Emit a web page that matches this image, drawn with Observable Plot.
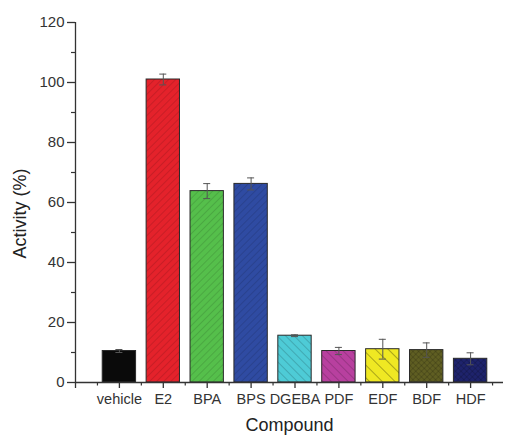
<!DOCTYPE html>
<html>
<head>
<meta charset="utf-8">
<script src="https://cdn.jsdelivr.net/npm/d3@7"></script>
<script src="https://cdn.jsdelivr.net/npm/@observablehq/plot@0.6"></script>
<style>
  html, body { margin: 0; padding: 0; background: #fff; }
  #chart svg { display: block; }
</style>
</head>
<body>
<svg width="0" height="0" style="position:absolute">
  <defs>
    <pattern id="h-fwd" patternUnits="userSpaceOnUse" width="5" height="5" patternTransform="rotate(45)">
      <line x1="0" y1="0" x2="0" y2="5" stroke="rgba(0,0,0,0.22)" stroke-width="1.1"/>
    </pattern>
    <pattern id="h-back" patternUnits="userSpaceOnUse" width="6" height="6" patternTransform="rotate(-45)">
      <line x1="0" y1="0" x2="0" y2="6" stroke="rgba(0,0,0,0.28)" stroke-width="1.2"/>
    </pattern>
    <pattern id="h-wide" patternUnits="userSpaceOnUse" width="9" height="9" patternTransform="rotate(-45)">
      <line x1="0" y1="0" x2="0" y2="9" stroke="rgba(0,0,0,0.45)" stroke-width="1.3"/>
    </pattern>
    <pattern id="h-cross" patternUnits="userSpaceOnUse" width="4" height="4" patternTransform="rotate(45)">
      <line x1="0" y1="0" x2="0" y2="4" stroke="rgba(0,0,0,0.3)" stroke-width="1"/>
      <line x1="0" y1="0" x2="4" y2="0" stroke="rgba(0,0,0,0.3)" stroke-width="1"/>
    </pattern>
  </defs>
</svg>
<div id="chart"></div>
<script>
// ---- data ----
const categories = ["vehicle", "E2", "BPA", "BPS", "DGEBA", "PDF", "EDF", "BDF", "HDF"];
const activity   = [10.5, 101, 63.8, 66.2, 15.6, 10.5, 11.1, 10.8, 7.9];
const errors     = [0.5, 1.8, 2.5, 2.0, 0.3, 1.2, 3.3, 2.4, 2.0];
const yTicks     = [0, 20, 40, 60, 80, 100, 120];

// ---- styles ----
const palette = ["#0a0a0a", "#e4222b", "#55bf4b", "#2f4ba2", "#4ecbd6", "#b8409f", "#efe823", "#5f5e22", "#1e236c"];
const hatchOf = ["none", "fwd", "fwd", "fwd", "back", "back", "wide", "cross", "cross"];

const rows = categories.map((name, i) => ({
  name, pos: i + 1, value: activity[i], err: errors[i], hatch: hatchOf[i]
}));

const font = "'Liberation Sans', Arial, sans-serif";
const hw = 0.38, cap = 0.08;

const hatchMarks = ["fwd", "back", "wide", "cross"].map(h =>
  Plot.rectY(rows.filter(d => d.hatch === h), {
    x1: d => d.pos - hw, x2: d => d.pos + hw, y1: 0, y2: "value",
    fill: `url(#h-${h})`
  })
);

const chart = Plot.plot({
  width: 510,
  height: 435,
  marginLeft: 75,
  marginRight: 7,
  marginTop: 22,
  marginBottom: 53,
  style: { fontFamily: font, color: "#333", background: "#fff" },
  x: { type: "linear", domain: [0, 10], range: [75, 514] },
  y: { domain: [0, 120] },
  color: { domain: categories, range: palette },
  marks: [
    Plot.rectY(rows, {
      x1: d => d.pos - hw, x2: d => d.pos + hw, y1: 0, y2: "value",
      fill: "name"
    }),
    ...hatchMarks,
    Plot.rectY(rows, {
      x1: d => d.pos - hw, x2: d => d.pos + hw, y1: 0, y2: "value",
      fill: "none", stroke: "#2a2a2a", strokeWidth: 1
    }),
    // error bars
    Plot.ruleX(rows, { x: "pos", y1: d => d.value - d.err, y2: d => d.value + d.err, stroke: "#555", strokeWidth: 1 }),
    Plot.ruleY(rows, { y: d => d.value + d.err, x1: d => d.pos - cap, x2: d => d.pos + cap, stroke: "#555", strokeWidth: 1 }),
    Plot.ruleY(rows, { y: d => d.value - d.err, x1: d => d.pos - cap, x2: d => d.pos + cap, stroke: "#555", strokeWidth: 1 }),
    // axes lines
    Plot.ruleX([0], { stroke: "#333", strokeWidth: 1.3 }),
    Plot.ruleY([0], { stroke: "#333", strokeWidth: 1.3 }),
    // y axis
    Plot.axisY({ ticks: yTicks, tickSize: 8, tickPadding: 3, fontSize: 15, label: null, stroke: "#333", strokeWidth: 1.3 }),
    Plot.axisY({ ticks: d3.range(10, 120, 20), tickSize: 4, tickFormat: () => "", label: null, stroke: "#333", strokeWidth: 1.2 }),
    // x axis
    Plot.axisX({
      ticks: d3.range(0, categories.length + 1), tickSize: 6, tickPadding: 5, fontSize: 14.5, label: null,
      tickFormat: i => (i >= 1 ? categories[i - 1] : ""), stroke: "#333", strokeWidth: 1.3
    }),
    Plot.axisX({ ticks: d3.range(0.5, categories.length + 0.6, 1), tickSize: 3.5, tickFormat: () => "", label: null, stroke: "#333", strokeWidth: 1.2 }),
    // axis titles
    Plot.text(["Activity (%)"], { frameAnchor: "left", dx: -55, dy: 11, rotate: -90, textAnchor: "middle", fontSize: 18, fill: "#222" }),
    Plot.text(["Compound"], { frameAnchor: "bottom", lineAnchor: "middle", dy: 43, fontSize: 18, fill: "#222" })
  ]
});
document.getElementById("chart").appendChild(chart);
</script>
</body>
</html>
